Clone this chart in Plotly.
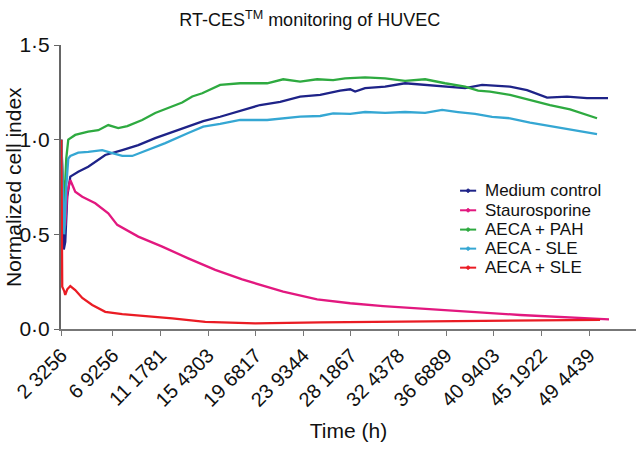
import plotly.graph_objects as go

# ---- data (time in hours, normalized cell index) ----
tick_vals = [2.3256, 6.9256, 11.1781, 15.4303, 19.6817, 23.9344, 28.1867,
             32.4378, 36.6889, 40.9403, 45.1922, 49.4439]
tick_text = ["2 3256", "6 9256", "11 1781", "15 4303", "19 6817", "23 9344",
             "28 1867", "32 4378", "36 6889", "40 9403", "45 1922", "49 4439"]
y_tick_vals = [0, 0.5, 1.0, 1.5]
y_tick_text = ["0·0", "0·5", "1·0", "1·5"]

medium_t = [2.33, 2.41, 2.55, 2.68, 2.86, 3.13, 3.84, 4.73, 6.25, 7.77, 9.20, 10.71,
            12.23, 13.66, 15.00, 16.51, 18.30, 20.08, 21.87, 23.65, 25.44, 27.22,
            28.12, 28.56, 29.45, 31.24, 33.02, 34.81, 36.59, 38.38, 39.90, 41.06,
            42.39, 43.91, 45.70, 47.48, 49.26, 51.14]
medium_v = [1.0, 0.70, 0.42, 0.46, 0.70, 0.805, 0.831, 0.857, 0.919, 0.945, 0.971, 1.008,
            1.041, 1.072, 1.098, 1.121, 1.151, 1.183, 1.200, 1.227, 1.236, 1.259,
            1.266, 1.254, 1.272, 1.280, 1.298, 1.289, 1.277, 1.272, 1.289, 1.283,
            1.280, 1.262, 1.222, 1.227, 1.219, 1.219]

stauro_t = [2.33, 2.41, 2.55, 2.68, 2.86, 3.13, 3.57, 4.20, 5.36, 6.52, 7.32, 9.20,
            11.34, 13.66, 16.07, 18.48, 19.19, 22.14, 25.17, 28.12, 31.06, 34.09,
            37.04, 43.29, 51.23]
stauro_v = [1.0, 0.80, 0.52, 0.55, 0.72, 0.787, 0.725, 0.699, 0.664, 0.611, 0.550, 0.488,
            0.435, 0.373, 0.312, 0.262, 0.249, 0.197, 0.157, 0.136, 0.121, 0.109,
            0.100, 0.074, 0.051]

pah_t = [2.33, 2.41, 2.59, 2.77, 2.95, 3.13, 3.57, 4.73, 5.63, 6.52, 7.41, 8.22, 9.55,
         10.71, 11.61, 13.12, 14.02, 14.91, 16.51, 18.30, 20.71, 22.14, 23.65, 25.17,
         26.60, 27.67, 29.45, 31.24, 33.02, 34.81, 36.59, 38.38, 39.54, 40.61, 42.39,
         44.18, 45.96, 47.75, 50.16]
pah_v = [1.0, 0.85, 0.66, 0.90, 1.0, 1.007, 1.025, 1.042, 1.050, 1.077, 1.061, 1.072, 1.104,
         1.141, 1.162, 1.196, 1.228, 1.245, 1.289, 1.298, 1.298, 1.319, 1.307, 1.319,
         1.315, 1.324, 1.329, 1.324, 1.311, 1.319, 1.298, 1.280, 1.259, 1.254, 1.236,
         1.209, 1.183, 1.160, 1.113]

sle_neg_t = [2.33, 2.41, 2.59, 2.77, 2.95, 3.13, 3.84, 4.73, 5.98, 6.88, 7.77, 8.66, 10.09,
             11.61, 13.66, 15.00, 16.51, 18.30, 20.71, 22.49, 23.65, 25.44, 26.60, 28.12,
             29.45, 31.24, 33.02, 34.81, 36.33, 37.75, 39.27, 40.79, 42.39, 44.18, 45.96,
             47.75, 50.16]
sle_neg_v = [1.0, 0.80, 0.50, 0.75, 0.90, 0.914, 0.931, 0.936, 0.945, 0.929, 0.914, 0.914, 0.945,
             0.982, 1.035, 1.069, 1.083, 1.104, 1.104, 1.113, 1.122, 1.125, 1.139, 1.136,
             1.146, 1.141, 1.146, 1.141, 1.157, 1.146, 1.136, 1.120, 1.113, 1.090, 1.072,
             1.055, 1.029]

sle_pos_t = [2.33, 2.37, 2.41, 2.59, 2.68, 2.86, 3.13, 3.57, 4.20, 5.09, 6.25, 7.77, 10.09,
             12.23, 15.18, 18.12, 19.64, 25.44, 32.58, 37.04, 43.29, 50.43]
sle_pos_v = [1.0, 0.60, 0.223, 0.20, 0.18, 0.21, 0.227, 0.206, 0.164, 0.127, 0.091, 0.079, 0.069,
             0.056, 0.038, 0.033, 0.030, 0.035, 0.038, 0.042, 0.045, 0.048]

series_names = ["Medium control", "Staurosporine", "AECA + PAH", "AECA - SLE", "AECA + SLE"]
series_t = [medium_t, stauro_t, pah_t, sle_neg_t, sle_pos_t]
series_v = [medium_v, stauro_v, pah_v, sle_neg_v, sle_pos_v]
colors = ["#1e2388", "#e2187f", "#2eaa40", "#35a7d3", "#ea1c24"]

FONT = "Liberation Sans, Arial, sans-serif"

fig = go.Figure()
for name, t, v, c in zip(series_names, series_t, series_v, colors):
    fig.add_trace(go.Scatter(x=t, y=v, mode="lines", name=name,
                             line=dict(color=c, width=2.3), showlegend=False))

# compact legend (row spacing as in the original), drawn in paper coordinates
legend_y = [0.487, 0.418, 0.350, 0.283, 0.216]
for name, c, ly in zip(series_names, colors, legend_y):
    fig.add_shape(type="line", xref="paper", yref="paper", x0=0.694, x1=0.722,
                  y0=ly, y1=ly, line=dict(color=c, width=2))
    fig.add_shape(type="circle", xref="paper", yref="paper", x0=0.7055, x1=0.7105,
                  y0=ly - 0.006, y1=ly + 0.006, line=dict(color=c, width=1),
                  fillcolor=c)
    fig.add_annotation(xref="paper", yref="paper", x=0.735, y=ly, xanchor="left",
                       yanchor="middle", showarrow=False, text=name, borderpad=0,
                       font=dict(family=FONT, size=17, color="#111111"))

# y-axis title
fig.add_annotation(xref="paper", yref="paper", x=-0.0835, y=0.5, xanchor="center",
                   yanchor="middle", showarrow=False, textangle=-90,
                   text="Normalized cell index", borderpad=0,
                   font=dict(family=FONT, size=21, color="#111111"))

fig.update_layout(
    width=636, height=456,
    margin=dict(l=61, r=0, t=45, b=127),
    paper_bgcolor="white", plot_bgcolor="white",
    font=dict(family=FONT, color="#111111"),
    title=dict(text="RT-CES<sup>TM</sup> monitoring of HUVEC", x=0.487, xanchor="center",
               xref="container", y=0.956, yanchor="middle", yref="container",
               font=dict(family=FONT, size=18, color="#111111")),
)
fig.update_xaxes(range=[2.30, 53.64], tickvals=tick_vals, ticktext=tick_text,
                 tickangle=-45, tickfont=dict(size=20, family=FONT, color="#111111"),
                 showline=True, linecolor="#777777", linewidth=1.5,
                 ticks="outside", ticklen=5, tickcolor="#777777", showgrid=False,
                 zeroline=False,
                 title=dict(text="Time (h)", font=dict(size=21, family=FONT), standoff=14))
fig.update_yaxes(range=[0, 1.5], tickvals=y_tick_vals, ticktext=y_tick_text,
                 tickfont=dict(size=21, family=FONT, color="#111111"),
                 showline=True, linecolor="#666666", linewidth=2,
                 ticks="outside", ticklen=5, tickcolor="#666666", showgrid=False,
                 zeroline=False)

fig.write_html("out.html", config={"displayModeBar": False},
               post_script="document.body.style.margin='0';document.body.style.overflow='hidden';")
